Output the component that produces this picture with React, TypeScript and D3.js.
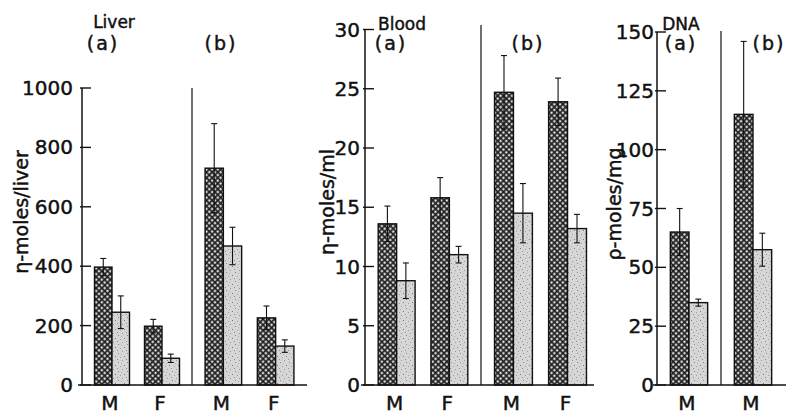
import React from "react";
import * as d3 from "d3";

// ---------- data ----------
const liverGroups = ["M", "F", "M", "F"];
const liverSections = ["a", "a", "b", "b"];
const liverDark = [397, 198, 730, 226];
const liverDarkErr = [29, 23, 150, 40];
const liverLight = [245, 90, 468, 131];
const liverLightErr = [55, 14, 63, 21];
const liverTicks = [0, 200, 400, 600, 800, 1000];

const bloodGroups = ["M", "F", "M", "F"];
const bloodSections = ["a", "a", "b", "b"];
const bloodDark = [13.6, 15.8, 24.7, 23.9];
const bloodDarkErr = [1.5, 1.7, 3.1, 2.0];
const bloodLight = [8.8, 11.0, 14.5, 13.2];
const bloodLightErr = [1.5, 0.7, 2.5, 1.2];
const bloodTicks = [0, 5, 10, 15, 20, 25, 30];

const dnaGroups = ["M", "M"];
const dnaSections = ["a", "b"];
const dnaDark = [65, 115];
const dnaDarkErr = [10, 31];
const dnaLight = [35, 57.5];
const dnaLightErr = [1.5, 7];
const dnaTicks = [0, 25, 50, 75, 100, 125, 150];

const sectionLabels = ["(a)", "(b)"];

// ---------- layout ----------
const W = 786;
const H = 415;
const BASE = 385;
const FONT = "'DejaVu Sans', 'Liberation Sans', sans-serif";
const INK = "#111";

type Panel = {
  title: string;
  ylabel: string;
  groups: string[];
  sections: string[];
  dark: number[];
  darkErr: number[];
  light: number[];
  lightErr: number[];
  ticks: number[];
  axisX: number;
  sepX: number;
  bandEnd: number;
  baseEnd: number;
  yTop: number;
  sepTop: number;
  labelGap: number;
  titleX: number;
  titleY: number;
  secX: number[];
  ylabelX: number;
  ylabelY: number;
};

const panels: Panel[] = [
  {
    title: "Liver",
    ylabel: "η-moles/liver",
    groups: liverGroups,
    sections: liverSections,
    dark: liverDark,
    darkErr: liverDarkErr,
    light: liverLight,
    lightErr: liverLightErr,
    ticks: liverTicks,
    axisX: 82,
    sepX: 192,
    bandEnd: 307,
    baseEnd: 307,
    yTop: 88,
    sepTop: 88,
    labelGap: 9,
    titleX: 114,
    titleY: 28,
    secX: [103, 221],
    ylabelX: 21,
    ylabelY: 212,
  },
  {
    title: "Blood",
    ylabel: "η-moles/ml",
    groups: bloodGroups,
    sections: bloodSections,
    dark: bloodDark,
    darkErr: bloodDarkErr,
    light: bloodLight,
    lightErr: bloodLightErr,
    ticks: bloodTicks,
    axisX: 365,
    sepX: 481,
    bandEnd: 600,
    baseEnd: 594,
    yTop: 29.5,
    sepTop: 25,
    labelGap: 5,
    titleX: 402,
    titleY: 30,
    secX: [391, 528],
    ylabelX: 327,
    ylabelY: 202,
  },
  {
    title: "DNA",
    ylabel: "ρ-moles/mg",
    groups: dnaGroups,
    sections: dnaSections,
    dark: dnaDark,
    darkErr: dnaDarkErr,
    light: dnaLight,
    lightErr: dnaLightErr,
    ticks: dnaTicks,
    axisX: 657,
    sepX: 721,
    bandEnd: 785,
    baseEnd: 786,
    yTop: 32,
    sepTop: 31,
    labelGap: 3,
    titleX: 681,
    titleY: 30,
    secX: [681, 769],
    ylabelX: 614,
    ylabelY: 204,
  },
];

const textProps = {
  fontFamily: FONT,
  fill: INK,
  stroke: INK,
  strokeWidth: 0.45,
};

function ErrBar({ x, y, v, e }: { x: number; y: d3.ScaleLinear<number, number>; v: number; e: number }) {
  const cap = 3;
  return (
    <g stroke={INK} strokeWidth={1.1}>
      <line x1={x} x2={x} y1={y(v + e)} y2={y(v - e)} />
      <line x1={x - cap} x2={x + cap} y1={y(v + e)} y2={y(v + e)} />
      <line x1={x - cap} x2={x + cap} y1={y(v - e)} y2={y(v - e)} />
    </g>
  );
}

function PanelView({ p }: { p: Panel }) {
  const yMax = p.ticks[p.ticks.length - 1];
  const y = d3.scaleLinear().domain([0, yMax]).range([BASE, p.yTop]);
  const ids = p.groups.map((_, i) => String(i));
  const idsA = ids.filter((_, i) => p.sections[i] === "a");
  const idsB = ids.filter((_, i) => p.sections[i] === "b");
  const xa = d3.scaleBand<string>().domain(idsA).range([p.axisX, p.sepX]).paddingInner(0.3).paddingOuter(0.25);
  const xb = d3.scaleBand<string>().domain(idsB).range([p.sepX, p.bandEnd]).paddingInner(0.3).paddingOuter(0.25);
  const xOf = (id: string) => (idsA.includes(id) ? xa : xb);

  return (
    <g>
      {/* bars */}
      {ids.map((id, i) => {
        const sx = xOf(id);
        const x0 = sx(id)!;
        const bw = sx.bandwidth();
        const s = d3.scaleBand<string>().domain(["dark", "light"]).range([x0, x0 + bw]);
        const vals = [
          { k: "dark", v: p.dark[i], e: p.darkErr[i], fill: "url(#hatch)" },
          { k: "light", v: p.light[i], e: p.lightErr[i], fill: "url(#stipple)" },
        ];
        return (
          <g key={id}>
            {vals.map((d) => (
              <rect
                key={d.k}
                x={s(d.k)!}
                y={y(d.v)}
                width={s.bandwidth()}
                height={BASE - y(d.v)}
                fill={d.fill}
                stroke={INK}
                strokeWidth={1.4}
              />
            ))}
            {vals.map((d) => (
              <ErrBar key={"e" + d.k} x={s(d.k)! + s.bandwidth() / 2} y={y} v={d.v} e={d.e} />
            ))}
            <text x={x0 + bw / 2 - 2} y={410} textAnchor="middle" fontSize={20} {...textProps}>
              {p.groups[i]}
            </text>
          </g>
        );
      })}
      {/* axis */}
      <line x1={p.axisX} x2={p.axisX} y1={p.yTop} y2={BASE} stroke={INK} strokeWidth={1.5} />
      {p.ticks.map((t) => (
        <g key={t}>
          <line x1={p.axisX - 2} x2={p.axisX + 9} y1={y(t)} y2={y(t)} stroke={INK} strokeWidth={1.4} />
          <text
            x={p.axisX - p.labelGap}
            y={y(t)}
            textAnchor="end"
            dominantBaseline="central"
            fontSize={20}
            {...textProps}
          >
            {t}
          </text>
        </g>
      ))}
      {/* baseline */}
      <line x1={p.axisX - 4} x2={p.baseEnd} y1={BASE} y2={BASE} stroke={INK} strokeWidth={1.6} />
      {/* separator */}
      <line x1={p.sepX} x2={p.sepX} y1={p.sepTop} y2={BASE} stroke={INK} strokeWidth={1.2} />
      {/* titles */}
      <text x={p.titleX} y={p.titleY} textAnchor="middle" fontSize={17} {...textProps}>
        {p.title}
      </text>
      {sectionLabels.map((s, i) => (
        <text key={s} x={p.secX[i]} y={50} textAnchor="middle" fontSize={19} letterSpacing={2} {...textProps}>
          {s}
        </text>
      ))}
      {/* y label */}
      <text
        transform={`translate(${p.ylabelX},${p.ylabelY}) rotate(-90)`}
        textAnchor="middle"
        dominantBaseline="central"
        fontSize={19}
        {...textProps}
      >
        {p.ylabel}
      </text>
    </g>
  );
}

export default function App() {
  return (
    <div style={{ position: "absolute", left: 0, top: 0 }}>
      <svg width={W} height={H} viewBox={`0 0 ${W} ${H}`} style={{ display: "block", background: "#fff" }}>
        <defs>
          <pattern id="hatch" patternUnits="userSpaceOnUse" width={4} height={4} patternTransform="rotate(45)">
            <rect width={4} height={4} fill="#1c1c1c" />
            <rect x={0.6} y={0.6} width={2.2} height={2.2} fill="#f2f2f2" />
          </pattern>
          <pattern id="stipple" patternUnits="userSpaceOnUse" width={9} height={9}>
            <rect width={9} height={9} fill="#d6d6d6" />
            <rect x={1} y={2} width={1} height={1} fill="#8a8a8a" />
            <rect x={5} y={0} width={1} height={1} fill="#9a9a9a" />
            <rect x={7} y={5} width={1} height={1} fill="#7a7a7a" />
            <rect x={3} y={6} width={1} height={1} fill="#a0a0a0" />
            <rect x={0} y={8} width={1} height={1} fill="#909090" />
            <rect x={4} y={3} width={1} height={1} fill="#b0b0b0" />
          </pattern>
        </defs>
        {panels.map((p) => (
          <PanelView key={p.title} p={p} />
        ))}
      </svg>
    </div>
  );
}
